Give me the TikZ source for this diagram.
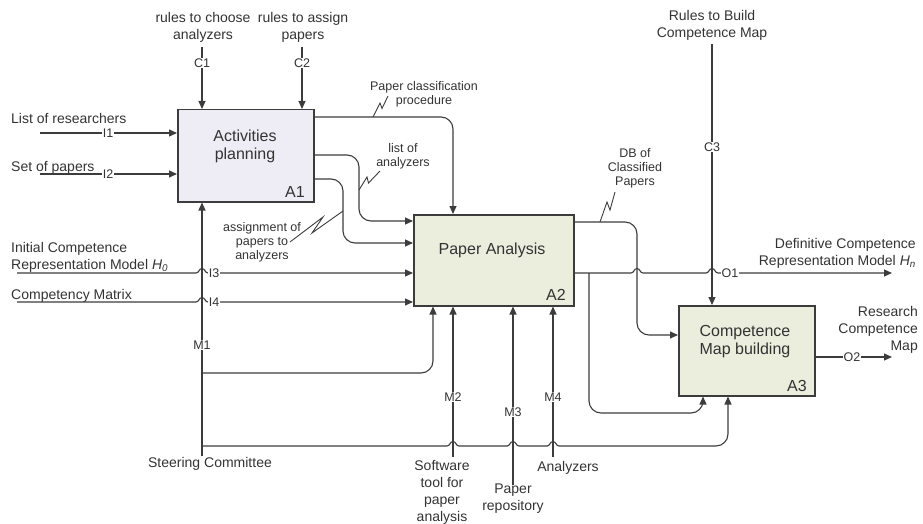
\documentclass[tikz,border=0pt]{standalone}
\usepackage{fontspec}
\setmainfont{Liberation Sans}
\usetikzlibrary{arrows.meta,calc}
\definecolor{linec}{HTML}{3C3C3C}
\definecolor{txtc}{HTML}{333333}
\definecolor{fillA}{HTML}{EEEDF5}
\definecolor{fillB}{HTML}{EBEEDD}
\newcommand\hop[2]{-- ({#1-6},#2) .. controls ({#1-3},#2) and ({#1-3},{#2-4.5}) .. (#1,{#2-4.5}) .. controls ({#1+3},{#2-4.5}) and ({#1+3},#2) .. ({#1+6},#2)}
\tikzset{
  box/.style={draw=linec, line width=1.5pt, anchor=north west, inner sep=0pt},
  txt/.style={font=\fontsize{14}{17}\selectfont, text=txtc, inner sep=0pt, align=center},
  note/.style={font=\fontsize{12.5}{14}\selectfont, text=txtc, inner sep=0pt, align=center},
  ttl/.style={font=\fontsize{16}{18}\selectfont, text=txtc, inner sep=0pt, align=center},
  code/.style={font=\fontsize{12.5}{14}\selectfont, text=txtc, fill=white, inner sep=1pt},
  plain/.style={draw=linec, line width=1.1pt, -{Triangle[length=8pt,width=7pt]}},
  arr/.style={plain, rounded corners=12pt},
  squig/.style={draw=linec, line width=0.9pt, line join=miter},
}
\begin{document}
\begin{tikzpicture}[x=1pt,y=-1pt]
\useasboundingbox (0,0) rectangle (923,524);

% boxes
\node[box, fill=fillA, minimum width=136pt, minimum height=92pt] (A1) at (177,109) {};
\node[box, fill=fillB, minimum width=160pt, minimum height=91pt] (A2) at (413,214) {};
\node[box, fill=fillB, minimum width=136pt, minimum height=90pt] (A3) at (678,305) {};

\node[ttl, anchor=north] (A1t) at (245,129.5) {Activities\\planning};
\node[ttl, anchor=base] (A2t) at (492,254) {Paper Analysis};
\node[ttl, anchor=north] (A3t) at (745,325.5) {Competence\\Map building};
\node[ttl, anchor=base east] (A1n) at (305,197) {A1};
\node[ttl, anchor=base east] (A2n) at (566,300) {A2};
\node[ttl, anchor=base east] (A3n) at (807,391) {A3};

% outer texts
\node[txt, anchor=north] (t1) at (203,12) {rules to choose\\analyzers};
\node[txt, anchor=north] (t2) at (303,12) {rules to assign\\papers};
\node[txt, anchor=north] (t3) at (712,10) {Rules to Build\\Competence Map};
\node[txt, anchor=base west] (t4) at (11,124) {List of researchers};
\node[txt, anchor=base west] (t5) at (11,171) {Set of papers};
\node[txt, anchor=north west, align=left] (t6) at (11,242) {Initial Competence\\Representation Model \textit{H\textsubscript{0}}};
\node[txt, anchor=base west] (t7) at (11,299) {Competency Matrix};
\node[txt, anchor=base] (t8) at (210,467) {Steering Committee};
\node[txt, anchor=north] (t9) at (442,460) {Software\\tool for\\paper\\analysis};
\node[txt, anchor=north] (t10) at (513,484) {Paper\\repository};
\node[txt, anchor=base] (t11) at (568,471) {Analyzers};
\node[txt, anchor=north east, align=right] (t12) at (916,238) {Definitive Competence\\Representation Model \textit{H\textsubscript{n}}};
\node[txt, anchor=north east, align=right] (t13) at (918,306) {Research\\Competence\\Map};

% connector notes
\node[note, anchor=north] (n1) at (424,81.5) {Paper classification\\procedure};
\node[note, anchor=north] (n2) at (403,143) {list of\\analyzers};
\node[note, anchor=north] (n3) at (262,222) {assignment of\\papers to\\analyzers};
\node[note, anchor=north] (n4) at (635,148) {DB of\\Classified\\Papers};

% free ends
\coordinate (c1s) at (202,47);
\coordinate (c2s) at (302,47);
\coordinate (c3s) at (712,44);
\coordinate (i1s) at (40,133);
\coordinate (i2s) at (40,174);
\coordinate (i3s) at (17,273);
\coordinate (i4s) at (17,302);
\coordinate (m1s) at (202,456);
\coordinate (m2s) at (453,457);
\coordinate (m3s) at (513,485);
\coordinate (m4s) at (553,457);
\coordinate (o1e) at (892,273);
\coordinate (o2e) at (892,357);
\coordinate (j1) at (202,373);
\coordinate (j2) at (202,446);
\coordinate (j3) at (589,273);

% controls
\draw[arr] (c1s) -- (c1s |- A1.north);
\draw[arr] (c2s) -- (c2s |- A1.north);
\draw[arr] (c3s) -- (c3s |- A3.north);
% inputs
\draw[arr] (i1s) -- (i1s -| A1.west);
\draw[arr] (i2s) -- (i2s -| A1.west);
\draw[plain] (i3s) \hop{202}{273} -- (i3s -| A2.west);
\draw[plain] (i4s) \hop{202}{302} -- (i4s -| A2.west);
% mechanisms
\draw[arr] (m1s) -- (m1s |- A1.south);
\draw[arr] (m2s) -- (m2s |- A2.south);
\draw[arr] (m3s) -- (m3s |- A2.south);
\draw[arr] (m4s) -- (m4s |- A2.south);
\draw[arr] (j1) -| (433,0 |- A2.south);
\draw[plain] (j2) \hop{453}{446} \hop{513}{446} \hop{553}{446} -- (640,446) [rounded corners=12pt] -| (728,0 |- A3.south);
% A1 outputs
\draw[arr] (A1.east |- 0,117) -| (453,0 |- A2.north);
\draw[arr] (A1.east |- 0,155) -| (359,221) -- (A2.west |- 0,221);
\draw[arr] (A1.east |- 0,179) -| (343,243) -- (A2.west |- 0,243);
% A2 outputs
\draw[arr] (A2.east |- 0,222) -| (637,335) -- (A3.west |- 0,335);
\draw[plain] (A2.east |- 0,273) \hop{637}{273} \hop{712}{273} -- (o1e);
\draw[arr] (j3) |- (703,413) -- (703,0 |- A3.south);
% A3 output
\draw[arr] (A3.east |- 0,357) -- (o2e);

% squiggles
\draw[squig] (373,117) -- (380,103) -- (382,108.5) -- (388,96);
\draw[squig] (359,190) -- (367,177) -- (368.5,183) -- (380,171);
\draw[squig] (343,211) -- (312,233) -- (323,217) -- (290,242);
\draw[squig] (600,222) -- (607,202) -- (610,210) -- (615,192);

% ICOM codes
\node[code] (C1) at (202,63) {C1};
\node[code] (C2) at (302,63) {C2};
\node[code] (C3) at (712,147) {C3};
\node[code] (I1) at (108,133) {I1};
\node[code] (I2) at (108,174) {I2};
\node[code] (I3) at (214,273) {I3};
\node[code] (I4) at (214,302) {I4};
\node[code] (M1) at (202,345) {M1};
\node[code] (M2) at (453,397) {M2};
\node[code] (M3) at (513,412) {M3};
\node[code] (M4) at (553,397) {M4};
\node[code] (O1) at (730,273) {O1};
\node[code] (O2) at (852,357) {O2};
\end{tikzpicture}
\end{document}
